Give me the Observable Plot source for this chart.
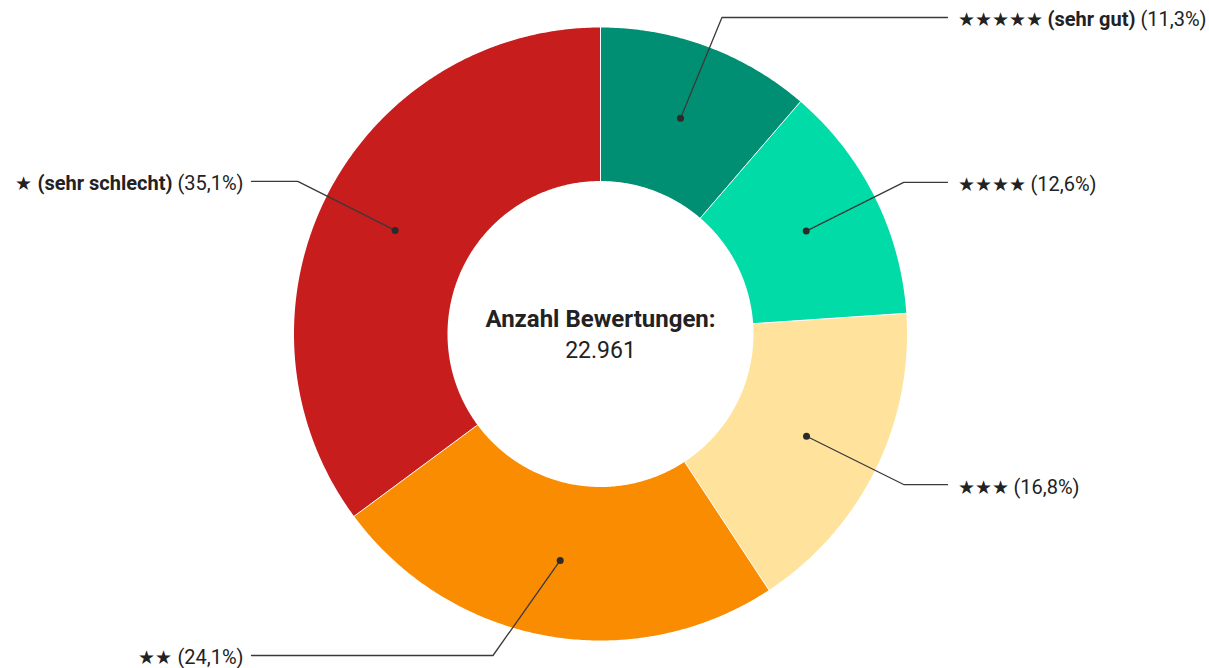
<!DOCTYPE html>
<html>
<head>
<meta charset="utf-8">
<script src="https://cdn.jsdelivr.net/npm/d3@7"></script>
<script src="https://cdn.jsdelivr.net/npm/@observablehq/plot@0.6"></script>
<style>
  html, body { margin: 0; padding: 0; background: #fff; }
  #chart { width: 1209px; height: 668px; }
  svg text { font-family: Roboto, "Noto Sans", sans-serif; }
</style>
</head>
<body>
<div id="chart"></div>
<script>
// ---- data ----
const stars = ["★★★★★", "★★★★", "★★★", "★★", "★"];
const descriptors = ["(sehr gut)", "", "", "", "(sehr schlecht)"];
const shares = [11.3, 12.6, 16.8, 24.1, 35.1];
const colors = ["#008f72", "#00dba7", "#ffe29b", "#f98c00", "#c81d1d"];
const totalLabel = "Anzahl Bewertungen:";
const totalCount = "22.961";

// ---- layout ----
const W = 1209, H = 668;
const cx = 600, cy = 333.5;
const rOuter = 306.5, rInner = 153, rDot = 230, rElbow = 339;
const elbowTop = 17, elbowBottom = 655;
const rightLineEnd = 947, rightTextX = 957;
const leftLineEnd = 251, leftTextX = 243;
const labelSize = 20, starSize = 18.5;

const total = d3.sum(shares);
const fmt = v => "(" + v.toFixed(1).replace(".", ",") + "%)";
const pt = (r, a) => [r * Math.sin(a), -r * Math.cos(a)];

let acc = 0;
const slices = stars.map((s, i) => {
  const a0 = acc / total * 2 * Math.PI;
  acc += shares[i];
  const a1 = acc / total * 2 * Math.PI;
  const am = (a0 + a1) / 2;
  const right = Math.sin(am) >= 0;
  const bold = descriptors[i] ? s + " " + descriptors[i] : s;
  return {key: s, desc: descriptors[i], i, a0, a1, am, right, color: colors[i], pct: fmt(shares[i]), label: bold + " " + fmt(shares[i])};
});

// polygon points for each slice
const polys = [];
for (const d of slices) {
  const n = Math.max(8, Math.ceil((d.a1 - d.a0) * 120));
  for (let k = 0; k <= n; k++) {
    const a = d.a0 + (d.a1 - d.a0) * k / n;
    const [x, y] = pt(rOuter, a);
    polys.push({key: d.key, color: d.color, x, y});
  }
  for (let k = n; k >= 0; k--) {
    const a = d.a0 + (d.a1 - d.a0) * k / n;
    const [x, y] = pt(rInner, a);
    polys.push({key: d.key, color: d.color, x, y});
  }
}

// separators
const seps = slices.map(d => {
  const [x1, y1] = pt(rInner - 0.5, d.a0);
  const [x2, y2] = pt(rOuter + 0.5, d.a0);
  return {x1, y1, x2, y2};
});

// leader lines
const leaders = [];
const dots = [];
const texts = [];
for (const d of slices) {
  const [dx, dy] = pt(rDot, d.am);
  let [ex, ey] = pt(rElbow, d.am);
  const yMin = elbowTop - cy, yMax = elbowBottom - cy;
  if (ey < yMin || ey > yMax) {
    ey = Math.max(yMin, Math.min(yMax, ey));
    ex = Math.sign(ex) * Math.sqrt(rElbow * rElbow - ey * ey);
  }
  const endX = (d.right ? rightLineEnd : leftLineEnd) - cx;
  leaders.push({key: d.key, x: dx, y: dy}, {key: d.key, x: ex, y: ey}, {key: d.key, x: endX, y: ey});
  dots.push({x: dx, y: dy});
  texts.push({x: (d.right ? rightTextX : leftTextX) - cx, y: ey, label: d.label, anchor: d.right ? "start" : "end"});
}

const chart = Plot.plot({
  width: W,
  height: H,
  margin: 0,
  x: {domain: [-cx, W - cx], range: [0, W], axis: null},
  y: {domain: [-cy, H - cy], range: [0, H], axis: null},
  color: {type: "identity"},
  marks: [
    Plot.line(polys, {x: "x", y: "y", z: "key", fill: "color", stroke: "none", curve: "linear"}),
    Plot.link(seps, {x1: "x1", y1: "y1", x2: "x2", y2: "y2", stroke: "#ffffff", strokeWidth: 1}),
    Plot.line(leaders, {x: "x", y: "y", z: "key", stroke: "#3a3a3a", strokeWidth: 1.3, curve: "linear"}),
    Plot.dot(dots, {x: "x", y: "y", r: 3.5, fill: "#2b2b2b", stroke: "none"}),
    Plot.text(texts.filter(t => t.anchor === "start"), {x: "x", y: "y", text: "label", textAnchor: "start", dy: 2.5, fontSize: labelSize, fill: "#222"}),
    Plot.text(texts.filter(t => t.anchor === "end"), {x: "x", y: "y", text: "label", textAnchor: "end", dy: 2.5, fontSize: labelSize, fill: "#222"}),
    Plot.text([totalLabel], {x: () => 0, y: () => -14.5, text: d => d, fontSize: 24, fontWeight: "bold", fill: "#222"}),
    Plot.text([totalCount], {x: () => 0, y: () => 16.5, text: d => d, fontSize: 23, fill: "#222"})
  ]
});

// mixed-weight labels
const byLabel = new Map(slices.map(d => [d.label, d]));
const ns = "http://www.w3.org/2000/svg";
const span = (txt, attrs) => {
  const s = document.createElementNS(ns, "tspan");
  for (const k in attrs) s.setAttribute(k, attrs[k]);
  s.textContent = txt;
  return s;
};
chart.querySelectorAll("text").forEach(t => {
  const d = byLabel.get(t.textContent);
  if (!d) return;
  while (t.firstChild) t.removeChild(t.firstChild);
  t.appendChild(span(d.key, {"font-size": starSize}));
  if (d.desc) t.appendChild(span(" " + d.desc, {"font-weight": "bold"}));
  t.appendChild(span(" " + d.pct, {}));
});

document.getElementById("chart").appendChild(chart);
</script>
</body>
</html>
